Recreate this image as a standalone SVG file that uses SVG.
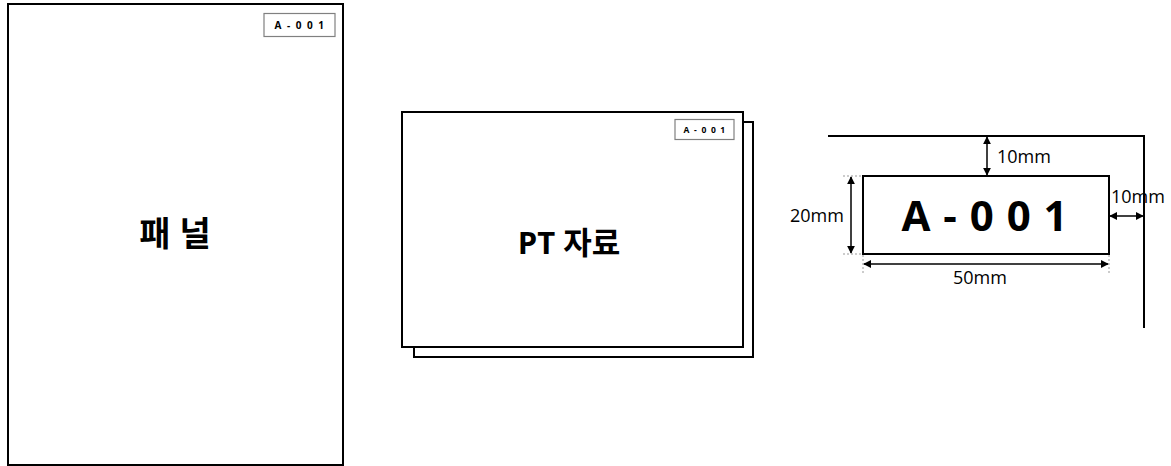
<svg xmlns="http://www.w3.org/2000/svg" width="1171" height="466" viewBox="0 0 1171 466">
<style>
.frame{fill:#fff;stroke:#000;stroke-width:2}
.tag{fill:#fff;stroke:#808080;stroke-width:1.2}
.tagtxt{font-family:"Open Sans","Noto Sans CJK KR",sans-serif;font-weight:bold;fill:#000;text-anchor:middle}
.big{font-family:"Open Sans","Noto Sans CJK KR",sans-serif;font-weight:bold;fill:#000;text-anchor:middle}
.dim{font-family:"Open Sans","Noto Sans CJK KR",sans-serif;font-size:18px;fill:#000}
.line{stroke:#000;stroke-width:2;fill:none}
.arr{stroke:#000;stroke-width:1.5;fill:none;marker-start:url(#ah);marker-end:url(#ah)}
.guide{stroke:#999;stroke-width:1;stroke-dasharray:2 2;fill:none}
</style>
<defs>
<marker id="ah" viewBox="0 0 10 10" refX="9" refY="5" markerWidth="8" markerHeight="8" orient="auto-start-reverse" markerUnits="userSpaceOnUse">
<path d="M0,0 L10,5 L0,10 z" fill="#000"/>
</marker>
</defs>
<rect width="1171" height="466" fill="#fff"/>

<g id="panel">
<rect class="frame" x="8" y="4" width="335" height="461"/>
<rect class="tag" x="264" y="13.5" width="71" height="23"/>
<text class="tagtxt" x="300" y="29" font-size="10" letter-spacing="1.5">A - 0 0 1</text>
<text class="big" x="175" y="246" font-size="34">패 널</text>
</g>

<g id="pt">
<rect class="frame" x="414" y="122" width="339" height="235"/>
<rect class="frame" x="402" y="112" width="341" height="235"/>
<rect class="tag" x="675" y="119.5" width="59" height="20"/>
<text class="tagtxt" x="705" y="133" font-size="8.5" letter-spacing="1.2">A - 0 0 1</text>
<text class="big" x="569" y="254" font-size="31">PT 자료</text>
</g>

<g id="label-spec">
<path class="line" d="M828,136 H1144 V328"/>
<rect class="frame" x="863" y="176" width="246" height="78"/>
<text class="big" x="985" y="231" font-size="42" letter-spacing="1">A - 0 0 1</text>
</g>

<g id="connectors">
<path class="guide" d="M843,176 H862 M843,254 H862 M863,255 V275 M1109,255 V275"/>
<line class="arr" x1="987" y1="137" x2="987" y2="175"/>
<line class="arr" x1="851" y1="177" x2="851" y2="253"/>
<line class="arr" x1="864" y1="264" x2="1108" y2="264"/>
<line class="arr" x1="1110" y1="216" x2="1143" y2="216"/>
<text class="dim" x="997" y="163">10mm</text>
<text class="dim" x="790" y="222">20mm</text>
<text class="dim" x="980" y="284" text-anchor="middle">50mm</text>
<text class="dim" x="1111" y="203">10mm</text>
</g>
</svg>
